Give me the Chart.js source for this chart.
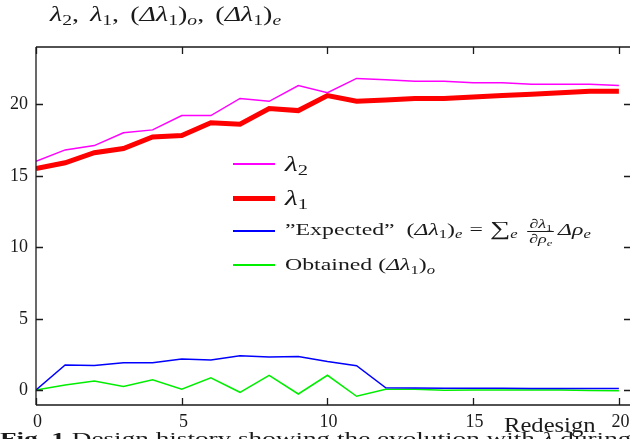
<!DOCTYPE html>
<html>
<head>
<meta charset="utf-8">
<script src="https://cdn.jsdelivr.net/npm/chart.js@4/dist/chart.umd.min.js"></script>
<style>
html, body { margin: 0; padding: 0; overflow: hidden; background: #fff; }
#wrap { position: relative; width: 630px; height: 439px; overflow: hidden; font-family: "Liberation Serif", serif; color: #1a1a1a; }
#chart-box { position: absolute; left: 0; top: 0; width: 640px; height: 439px; }
.m { font-style: italic; }
sub { font-size: 70%; vertical-align: -0.3em; line-height: 0; }
.wide { display: inline-block; transform-origin: 0 50%; white-space: nowrap; }
#title { position: absolute; left: 50px; top: 3px; font-size: 20px; white-space: nowrap; }
#title .wide { transform: scaleX(1.4); word-spacing: 3px; }
.leg-row { position: absolute; left: 233px; height: 0; white-space: nowrap; }
.leg-line { position: absolute; left: 0; width: 42px; }
.leg-text { position: absolute; left: 52px; top: 0; transform: translateY(-50%) scaleX(1.4); transform-origin: 0 50%; }
.op { margin: 0 5px; }
.sum { font-size: 120%; line-height: 0; }
.frac { display: inline-block; vertical-align: middle; text-align: center; font-size: 13px; line-height: 1; margin: 0 3px 0 3px; }
.frac > span { display: block; }
.frac > .num { border-bottom: 0.8px solid #1a1a1a; padding: 0 1px 1px; }
#xlabel { position: absolute; left: 504px; top: 414px; font-size: 20px; transform: scaleX(1.23); transform-origin: 0 0; }
#caption { position: absolute; left: 0; top: 429px; font-size: 17px; white-space: nowrap; transform: scaleX(1.6); transform-origin: 0 0; }
</style>
</head>
<body>
<div id="wrap">
    <div id="chart-box"><canvas id="history-chart" width="640" height="439"></canvas></div>

    <div id="title"><span class="wide"><span class="m">λ</span><sub>2</sub>, <span class="m">λ</span><sub>1</sub>, (<span class="m">Δλ</span><sub>1</sub>)<sub class="m">o</sub>, (<span class="m">Δλ</span><sub>1</sub>)<sub class="m">e</sub></span></div>

    <div class="leg-row" style="top:164px">
        <div class="leg-line" style="top:-0.75px;height:1.5px;background:#ff00ff"></div>
        <div class="leg-text" style="font-size:21px"><span class="m">λ</span><sub>2</sub></div>
    </div>
    <div class="leg-row" style="top:198px">
        <div class="leg-line" style="top:-2.5px;height:5px;background:#ff0000"></div>
        <div class="leg-text" style="font-size:21px"><span class="m">λ</span><sub>1</sub></div>
    </div>
    <div class="leg-row" style="top:231px">
        <div class="leg-line" style="top:-0.75px;height:1.5px;background:#0000ff"></div>
        <div class="leg-text" style="font-size:17px">”Expected” &nbsp;(<span class="m">Δλ</span><sub>1</sub>)<sub class="m">e</sub><span class="op">=</span><span class="sum">∑</span><sub class="m">e</sub> <span class="frac"><span class="num">∂<span class="m">λ</span><sub>1</sub></span><span>∂<span class="m">ρ</span><sub class="m">e</sub></span></span><span class="m">Δρ</span><sub class="m">e</sub></div>
    </div>
    <div class="leg-row" style="top:265px">
        <div class="leg-line" style="top:-0.75px;height:1.5px;background:#00ee00"></div>
        <div class="leg-text" style="font-size:17px">Obtained (<span class="m">Δλ</span><sub>1</sub>)<sub class="m">o</sub></div>
    </div>

    <div id="xlabel">Redesign</div>
    <div id="caption"><b>Fig. 1</b> Design history showing the evolution with <span class="m">λ</span> during</div>
</div>

<script>
// 设计历史数据
const redesign = [0, 1, 2, 3, 4, 5, 6, 7, 8, 9, 10, 11, 12, 13, 14, 15, 16, 17, 18, 19, 20];
const lambda2 = [16.0, 16.8, 17.1, 18.0, 18.2, 19.2, 19.2, 20.4, 20.2, 21.3, 20.8, 21.8, 21.7, 21.6, 21.6, 21.5, 21.5, 21.4, 21.4, 21.4, 21.3];
const lambda1 = [15.5, 15.9, 16.6, 16.9, 17.7, 17.8, 18.7, 18.6, 19.7, 19.55, 20.6, 20.2, 20.3, 20.4, 20.4, 20.5, 20.6, 20.7, 20.8, 20.9, 20.9];
const expectedDelta = [0, 1.75, 1.72, 1.9, 1.9, 2.17, 2.1, 2.4, 2.3, 2.35, 2.0, 1.7, 0.15, 0.14, 0.13, 0.12, 0.12, 0.11, 0.11, 0.1, 0.1];
const obtainedDelta = [0, 0.35, 0.63, 0.25, 0.72, 0.05, 0.85, -0.16, 1.03, -0.28, 1.03, -0.44, 0.05, 0.05, -0.02, 0.0, 0.0, 0.0, 0.0, -0.03, -0.05];
const xTicks = [0, 5, 10, 15, 20];
const yTicks = [0, 5, 10, 15, 20];

function toPoints(values) {
    return values.map((v, i) => ({ x: redesign[i], y: v }));
}

// 画坐标框、刻度和刻度文字
const framePlugin = {
    id: 'frame',
    afterDraw(chart) {
        const { ctx, chartArea, scales } = chart;
        const { left, right, top, bottom } = chartArea;
        ctx.save();
        ctx.strokeStyle = '#1a1a1a';
        ctx.lineWidth = 1.3;
        ctx.beginPath();
        ctx.moveTo(left, top);
        ctx.lineTo(right, top);
        ctx.moveTo(left, top);
        ctx.lineTo(left, bottom);
        ctx.moveTo(left, bottom);
        ctx.lineTo(right, bottom);
        ctx.moveTo(right, top);
        ctx.lineTo(right, bottom);
        ctx.stroke();

        ctx.fillStyle = '#1a1a1a';
        ctx.font = '18px "Liberation Serif", serif';

        ctx.textAlign = 'center';
        ctx.textBaseline = 'top';
        xTicks.forEach(t => {
            const px = Math.round(scales.x.getPixelForValue(t)) + 0.5;
            ctx.beginPath();
            ctx.moveTo(px, top);
            ctx.lineTo(px, top + 7);
            ctx.moveTo(px, bottom);
            ctx.lineTo(px, bottom - 7);
            ctx.stroke();
            ctx.fillText(String(t), px + 1, bottom + 8);
        });

        ctx.textAlign = 'right';
        ctx.textBaseline = 'middle';
        yTicks.forEach(t => {
            const py = Math.round(scales.y.getPixelForValue(t)) + 0.5;
            ctx.beginPath();
            ctx.moveTo(left, py);
            ctx.lineTo(left + 7, py);
            ctx.moveTo(right, py);
            ctx.lineTo(right - 8, py);
            ctx.stroke();
            ctx.fillText(String(t), left - 8, py);
        });
        ctx.restore();
    }
};

const ctx = document.getElementById('history-chart').getContext('2d');
new Chart(ctx, {
    type: 'line',
    data: {
        datasets: [
            {
                label: 'λ2',
                data: toPoints(lambda2),
                borderColor: '#ff00ff',
                borderWidth: 1.5
            },
            {
                label: 'λ1',
                data: toPoints(lambda1),
                borderColor: '#ff0000',
                borderWidth: 5
            },
            {
                label: 'Expected',
                data: toPoints(expectedDelta),
                borderColor: '#0000ff',
                borderWidth: 1.5
            },
            {
                label: 'Obtained',
                data: toPoints(obtainedDelta),
                borderColor: '#00ee00',
                borderWidth: 1.5
            }
        ]
    },
    options: {
        responsive: false,
        animation: false,
        layout: {
            padding: { left: 36, top: 47, right: 8, bottom: 34 }
        },
        elements: {
            point: { radius: 0 },
            line: { tension: 0, fill: false }
        },
        scales: {
            x: { type: 'linear', min: 0, max: 20.45, display: false },
            y: { type: 'linear', min: -1.05, max: 24.0, display: false }
        },
        plugins: {
            legend: { display: false },
            tooltip: { enabled: false }
        }
    },
    plugins: [framePlugin]
});
</script>
</body>
</html>
